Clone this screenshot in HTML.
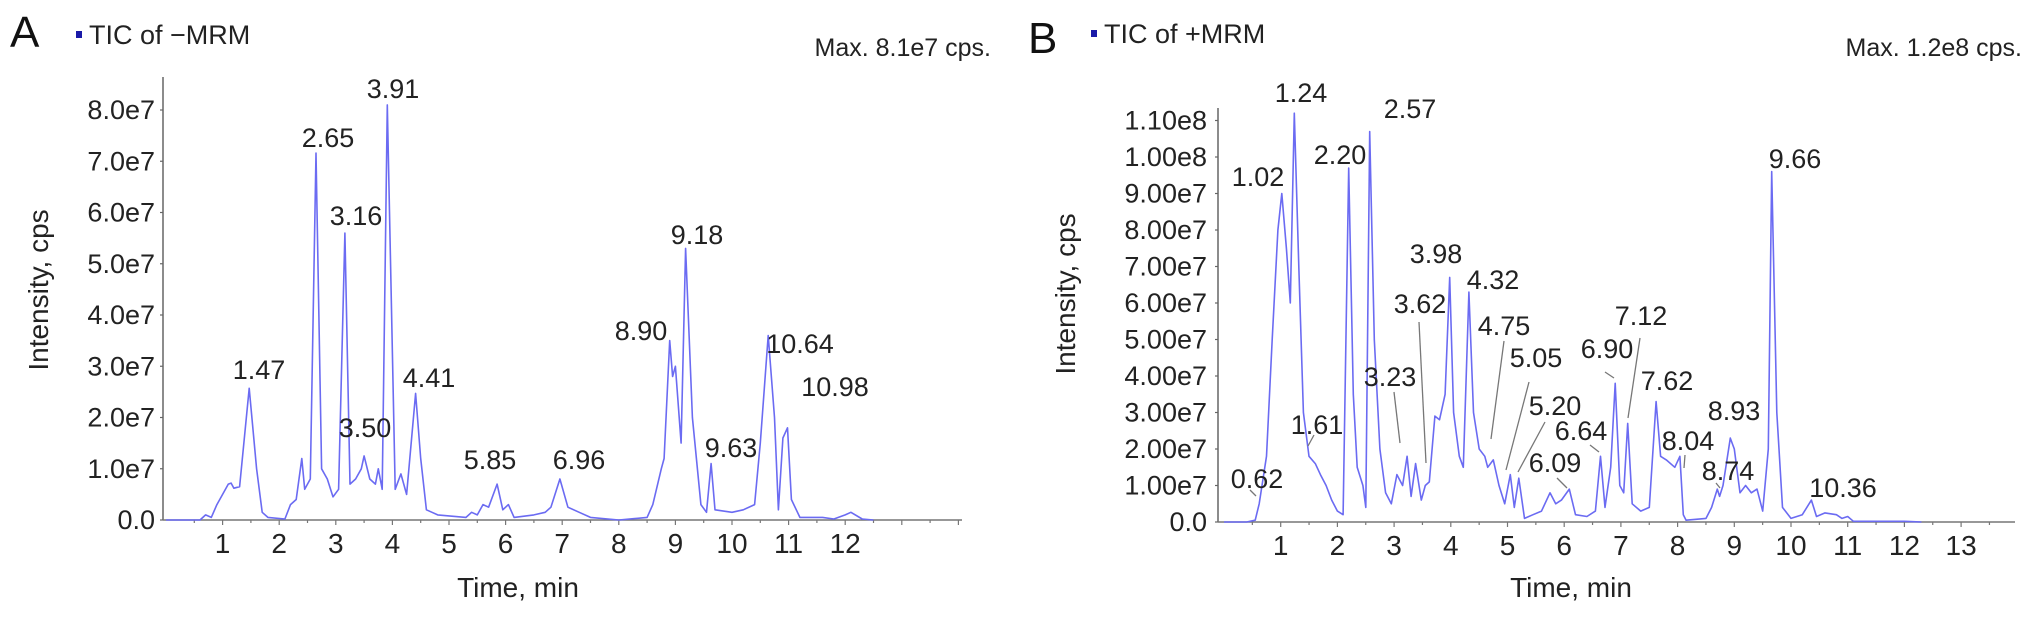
<!DOCTYPE html>
<html><head><meta charset="utf-8"><style>
html,body{margin:0;padding:0;background:#fff}
svg{display:block;font-family:"Liberation Sans",Arial,sans-serif}
</style></head><body>
<svg id="fig" width="2032" height="617" viewBox="0 0 2032 617" xmlns="http://www.w3.org/2000/svg">
<g id="panelA"></g>
<g id="panelB"></g>
</svg>
<script>
// Panel A data (TIC of -MRM), time in min, intensity in 1e7 cps
const timesA=[0,0.6,0.7,0.8,0.9,1.0,1.1,1.15,1.2,1.3,1.47,1.6,1.7,1.8,2.1,2.2,2.3,2.4,2.45,2.55,2.65,2.75,2.85,2.95,3.05,3.16,3.25,3.35,3.45,3.5,3.6,3.7,3.75,3.82,3.91,4.05,4.15,4.25,4.41,4.5,4.6,4.7,4.8,5.0,5.3,5.4,5.5,5.6,5.7,5.85,5.95,6.05,6.15,6.5,6.7,6.8,6.96,7.1,7.3,7.5,8.0,8.5,8.6,8.75,8.8,8.9,8.95,9.0,9.1,9.18,9.3,9.45,9.55,9.63,9.7,10.0,10.2,10.4,10.5,10.64,10.75,10.82,10.9,10.98,11.05,11.2,11.6,11.8,12.0,12.1,12.3,12.5];
const intensA=[0,0,0.1,0.05,0.3,0.5,0.7,0.72,0.62,0.65,2.57,1.0,0.15,0.05,0.02,0.3,0.4,1.2,0.6,0.8,7.16,1.0,0.8,0.45,0.6,5.6,0.7,0.8,1.0,1.25,0.8,0.7,1.0,0.6,8.1,0.6,0.9,0.5,2.47,1.2,0.2,0.15,0.1,0.08,0.05,0.15,0.1,0.3,0.25,0.7,0.2,0.3,0.05,0.1,0.15,0.25,0.8,0.25,0.15,0.05,0,0.05,0.3,1.0,1.2,3.5,2.8,3.0,1.5,5.3,2.0,0.3,0.15,1.1,0.2,0.15,0.2,0.3,1.5,3.6,2.0,0.2,1.6,1.8,0.4,0.05,0.05,0.02,0.1,0.15,0.02,0];
const yTicksA=[0,1,2,3,4,5,6,7,8];
const yTickLabelsA=["0.0","1.0e7","2.0e7","3.0e7","4.0e7","5.0e7","6.0e7","7.0e7","8.0e7"];
const xTicksA=[1,2,3,4,5,6,7,8,9,10,11,12];
const peakLabelsA=["1.47","2.65","3.16","3.91","3.50","4.41","5.85","6.96","8.90","9.18","9.63","10.64","10.98"];

// Panel B data (TIC of +MRM)
const timesB=[0,0.4,0.55,0.62,0.75,0.85,0.95,1.02,1.1,1.17,1.24,1.32,1.4,1.5,1.61,1.7,1.8,1.9,2.0,2.1,2.2,2.28,2.35,2.45,2.5,2.57,2.65,2.75,2.85,2.95,3.05,3.15,3.23,3.3,3.38,3.48,3.55,3.62,3.72,3.8,3.9,3.98,4.05,4.15,4.22,4.32,4.4,4.5,4.6,4.65,4.75,4.85,4.95,5.05,5.12,5.2,5.3,5.45,5.6,5.75,5.85,5.95,6.09,6.2,6.4,6.55,6.64,6.72,6.82,6.9,6.98,7.05,7.12,7.2,7.35,7.5,7.62,7.7,7.8,7.95,8.04,8.1,8.15,8.5,8.6,8.7,8.74,8.8,8.93,9.0,9.1,9.2,9.3,9.4,9.5,9.6,9.66,9.75,9.85,10.0,10.2,10.36,10.45,10.6,10.8,10.9,11.0,11.1,12.0,12.3];
const intensB=[0,0,0.05,0.5,1.8,5,8,9.0,7.5,6.0,11.2,7,3,1.8,1.6,1.3,1.0,0.6,0.3,0.2,9.7,3.5,1.5,1.0,0.4,10.7,5,2.0,0.8,0.5,1.3,1.0,1.8,0.7,1.6,0.6,1.0,1.1,2.9,2.8,3.5,6.7,3.0,1.8,1.5,6.3,3.0,2.0,1.8,1.5,1.7,1.0,0.5,1.3,0.4,1.2,0.1,0.2,0.3,0.8,0.5,0.6,0.9,0.2,0.15,0.3,1.8,0.4,1.5,3.8,1.0,0.8,2.7,0.5,0.3,0.4,3.3,1.8,1.7,1.5,1.8,0.2,0.05,0.1,0.4,0.9,0.7,1.0,2.3,2.0,0.8,1.0,0.8,0.9,0.3,2.0,9.6,3.0,0.4,0.1,0.2,0.6,0.15,0.25,0.2,0.1,0.15,0.02,0.02,0];
const yTicksB=[0,1,2,3,4,5,6,7,8,9,10,11];
const yTickLabelsB=["0.0","1.00e7","2.00e7","3.00e7","4.00e7","5.00e7","6.00e7","7.00e7","8.00e7","9.00e7","1.00e8","1.10e8"];
const xTicksB=[1,2,3,4,5,6,7,8,9,10,11,12,13];
const peakLabelsB=["0.62","1.02","1.24","1.61","2.20","2.57","3.23","3.62","3.98","4.32","4.75","5.05","5.20","6.09","6.64","6.90","7.12","7.62","8.04","8.74","8.93","9.66","10.36"];

const NS="http://www.w3.org/2000/svg";
function mk(parent,tag,attrs,text){const e=document.createElementNS(NS,tag);for(const k in attrs)e.setAttribute(k,attrs[k]);if(text!==undefined)e.textContent=text;parent.appendChild(e);return e;}

// label positions (layout, not data): [x, y, leader or null]
const labelPosA=[[259,369],[328,137],[356,215],[393,88],[365,427],[429,377],[490,459],[579,459],[641,330],[697,234],[731,447],[800,343],[835,386]];
const labelPosB=[[1257,478,[1250,490,1256,496]],[1258,176],[1301,92],[1317,424,[1314,435,1308,446]],[1340,154],[1410,108],[1390,376,[1394,392,1400,443]],[1420,303,[1419,322,1426,463]],[1436,253],[1493,279],[1504,325,[1504,341,1491,439]],[1536,357,[1529,382,1506,470]],[1555,405,[1545,422,1518,472]],[1555,462,[1557,478,1567,488]],[1581,430,[1590,445,1599,452]],[1607,348,[1605,372,1614,378]],[1641,315,[1640,338,1628,418]],[1667,380],[1688,440,[1685,455,1684,468]],[1728,470,[1716,483,1720,488]],[1734,410],[1795,158],[1843,487]];

function drawPanel(g,cfg){
  const xs=t=>cfg.x0+cfg.px*t, ys=v=>cfg.base-cfg.py*v;
  const L=mk(g,'text',{x:cfg.letterX,y:cfg.letterY,'font-size':44,fill:'#111'},cfg.letter);
  
  
  const sq=mk(g,'rect',{x:cfg.legX,y:cfg.legY-3,width:6,height:7,fill:'#1a1aa8'});
  
  
  const lt=mk(g,'text',{x:cfg.legX+13,y:cfg.legY+10,'font-size':27,fill:'#222'},cfg.legend);
  
  
  const mx=mk(g,'text',{x:cfg.maxX,y:56,'font-size':25,fill:'#222','text-anchor':'end'},cfg.maxText);
  
  
  const ya=mk(g,'line',{x1:cfg.axX,y1:cfg.axTop,x2:cfg.axX,y2:cfg.base,stroke:'#666','stroke-width':1.5});
  
  
  const xa=mk(g,'line',{x1:cfg.axX,y1:cfg.base,x2:cfg.axEnd,y2:cfg.base,stroke:'#777','stroke-width':1.5});
  
  
  for(let t=0.5;xs(t)<=cfg.axEnd+1;t+=0.5){
    const tk=mk(g,'line',{x1:xs(t),y1:cfg.base,x2:xs(t),y2:cfg.base+(t%1===0?5:3),stroke:'#777','stroke-width':1.2});
    
    
  }
  cfg.xTicks.forEach(t=>{
    const e=mk(g,'text',{x:xs(t),y:cfg.base+33,'font-size':28,fill:'#222','text-anchor':'middle'},String(t));
    
    
  });
  cfg.yTicks.forEach((v,i)=>{
    const tk=mk(g,'line',{x1:cfg.axX-3,y1:ys(v),x2:cfg.axX,y2:ys(v),stroke:'#666','stroke-width':1.2});
    
    
    const e=mk(g,'text',{x:cfg.labR,y:ys(v)+9,'font-size':cfg.ySize,fill:'#222','text-anchor':'end'},cfg.yLabels[i]);
    
    
  });
  const xt=mk(g,'text',{x:cfg.xtX,y:597,'font-size':28,fill:'#222','text-anchor':'middle'},'Time, min');
  
  
  const yt=mk(g,'text',{x:0,y:0,'font-size':28,fill:'#222','text-anchor':'middle',transform:`translate(${cfg.ytX+10},${cfg.ytY}) rotate(-90)`},'Intensity, cps');
  
  
  const d=cfg.times.map((t,i)=>(i?'L':'M')+xs(t).toFixed(1)+' '+ys(cfg.vals[i]).toFixed(1)).join(' ');
  const p=mk(g,'path',{d:d,fill:'none',stroke:'#6b6bf2','stroke-width':1.6,'stroke-linejoin':'round'});
  
  
  cfg.peaks.forEach((s,i)=>{
    const pos=cfg.pos[i];
    if(pos[2]){const l=mk(g,'line',{x1:pos[2][0],y1:pos[2][1],x2:pos[2][2],y2:pos[2][3],stroke:'#777','stroke-width':1.3});
      
      }
    const e=mk(g,'text',{x:pos[0],y:pos[1]+10,'font-size':27,fill:'#222','text-anchor':'middle'},s);
    
    
  });
}
drawPanel(document.getElementById('panelA'),{letter:'A',letterX:10,letterY:47,legX:76,legY:34,legend:'TIC of \u2212MRM',maxX:991,maxText:'Max. 8.1e7 cps.',
  x0:166,px:56.6,base:520,py:51.25,axX:163,axTop:77,axEnd:962,labR:155,ySize:27,xtX:518,ytX:38,ytY:290,
  times:timesA,vals:intensA,yTicks:yTicksA,yLabels:yTickLabelsA,xTicks:xTicksA,peaks:peakLabelsA,pos:labelPosA});
drawPanel(document.getElementById('panelB'),{letter:'B',letterX:1028,letterY:53,legX:1091,legY:33,legend:'TIC of +MRM',maxX:2022,maxText:'Max. 1.2e8 cps.',
  x0:1224,px:56.7,base:522,py:36.5,axX:1218,axTop:108,axEnd:2015,labR:1207,ySize:27,xtX:1571,ytX:1065,ytY:294,
  times:timesB,vals:intensB,yTicks:yTicksB,yLabels:yTickLabelsB,xTicks:xTicksB,peaks:peakLabelsB,pos:labelPosB});
</script>
</body></html>
